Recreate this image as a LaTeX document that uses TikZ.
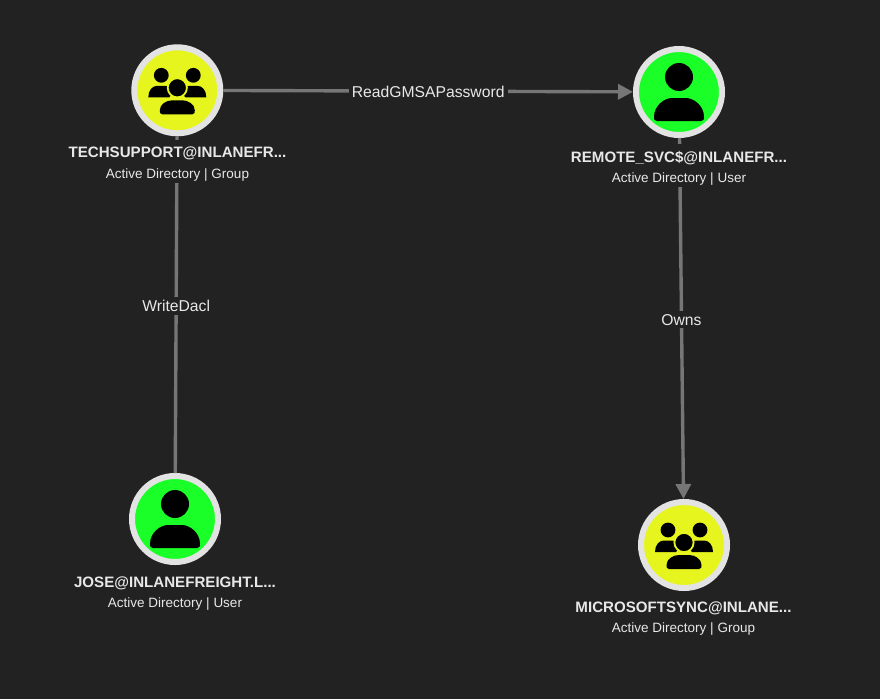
\documentclass[tikz,border=0pt]{standalone}
\usepackage{fontspec}
\setmainfont{Liberation Sans}
\usetikzlibrary{arrows.meta}
\definecolor{bgc}{HTML}{222222}
\definecolor{ringc}{HTML}{E3E3E3}
\definecolor{grp}{HTML}{E6F51E}
\definecolor{usr}{HTML}{1AFF27}
\definecolor{edgec}{HTML}{767676}
\definecolor{txtc}{HTML}{E8E8E8}
\tikzset{
  entity/.style={circle,draw=ringc,line width=6pt,minimum size=86pt,inner sep=0pt},
  groupent/.style={entity,fill=grp},
  userent/.style={entity,fill=usr},
  title/.style={text=txtc,fill=bgc,font=\fontsize{15.1}{18}\bfseries\selectfont,inner xsep=1pt,inner ysep=7pt},
  subtitle/.style={text=txtc,fill=bgc,font=\fontsize{13.5}{16}\selectfont,inner xsep=1pt,inner ysep=1.5pt},
  edgelabel/.style={text=txtc,fill=bgc,font=\fontsize{15.7}{18}\selectfont,inner xsep=3pt,inner ysep=3pt,yshift=-1.2pt},
  link/.style={draw=edgec,line width=3.4pt},
  arrowlink/.style={link,-{Triangle[length=15pt,width=15pt]}}
}
\newcommand{\usericon}[1]{%
  \begin{scope}[shift={(#1.center)}]
    \fill[black] (0,-15) circle (14);
    \fill[black] (-22,29) .. controls (-25,29) and (-25,27) .. (-25,25)
      .. controls (-25,13) and (-14,6) .. (-7,6) -- (7,6)
      .. controls (14,6) and (25,13) .. (25,25)
      .. controls (25,27) and (25,29) .. (22,29) -- cycle;
  \end{scope}}
\newcommand{\sidebody}{%
  (-29,7) .. controls (-29,0) and (-25,-4.5) .. (-20,-4.5) -- (-13,-4.5)
  .. controls (-9,-4.5) and (-5,-2) .. (-4,2) -- (-8,7) -- cycle}
\newcommand{\groupicon}[2]{%
  \begin{scope}[shift={(#1.center)}]
    \fill[black] (-16,-15) circle (7.4);
    \fill[black] (16,-15) circle (7.4);
    \fill[black] \sidebody;
    \begin{scope}[xscale=-1]\fill[black] \sidebody;\end{scope}
    \fill[black,draw=#2,line width=1.8pt] (0,-2.5) circle (9.6);
    \fill[black] (-15,24) .. controls (-17.5,24) and (-17.5,22) .. (-17.5,20)
      .. controls (-17.5,14) and (-11,10) .. (-5,10) -- (5,10)
      .. controls (11,10) and (17.5,14) .. (17.5,20)
      .. controls (17.5,22) and (17.5,24) .. (15,24) -- cycle;
  \end{scope}}
\begin{document}
\begin{tikzpicture}[x=1pt,y=-1pt]
\useasboundingbox[fill=bgc] (0,0) rectangle (880,699);
\coordinate (c1) at (177.3,90.3);
\coordinate (c2) at (679,92);
\coordinate (c3) at (175,519);
\coordinate (c4) at (684,545);
\node[groupent] (tech) at (c1) {};
\node[userent] (remote) at (c2) {};
\node[userent] (jose) at (c3) {};
\node[groupent] (msync) at (c4) {};
\draw[arrowlink] (tech) -- node[edgelabel,midway] (l1) {ReadGMSAPassword} (remote);
\draw[link] (tech) -- node[edgelabel,midway] (l2) {WriteDacl} (jose);
\draw[arrowlink] (remote) -- node[edgelabel,midway] (l3) {Owns} (msync);
\node[title] (t1) at (177.5,153.4) {TECHSUPPORT@INLANEFR...};
\node[subtitle] (s1) at (177.5,174.8) {Active Directory | Group};
\node[title] (t2) at (679,157.9) {REMOTE\_SVC\$@INLANEFR...};
\node[subtitle] (s2) at (679,178.8) {Active Directory | User};
\node[title] (t3) at (175,582.9) {JOSE@INLANEFREIGHT.L...};
\node[subtitle] (s3) at (175,603.8) {Active Directory | User};
\node[title] (t4) at (683.5,607.9) {MICROSOFTSYNC@INLANE...};
\node[subtitle] (s4) at (683.5,628.8) {Active Directory | Group};
\groupicon{tech}{grp}
\groupicon{msync}{grp}
\usericon{remote}
\usericon{jose}
\end{tikzpicture}
\end{document}
